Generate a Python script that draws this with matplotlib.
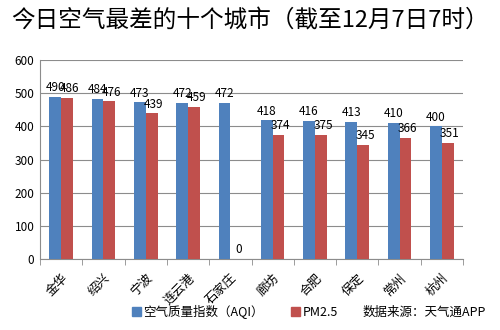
import numpy as np
import matplotlib
matplotlib.use("Agg")
import matplotlib.pyplot as plt
from matplotlib.patches import Patch

plt.rcParams['font.family'] = ['Noto Sans CJK SC', 'DejaVu Sans']

cities = ["金华", "绍兴", "宁波", "连云港", "石家庄", "廊坊", "合肥", "保定", "常州", "杭州"]
aqi = [490, 484, 473, 472, 472, 418, 416, 413, 410, 400]
pm25 = [486, 476, 439, 459, 0, 374, 375, 345, 366, 351]

blue = "#4F81BD"
red = "#C0504D"

fig = plt.figure(figsize=(5, 3.3), dpi=100)
ax = fig.add_axes([0.08, 0.215, 0.846, 0.603])

x = np.arange(len(cities))
w = 0.28
ax.bar(x - w / 2, aqi, w, color=blue, zorder=3)
ax.bar(x + w / 2, pm25, w, color=red, zorder=3)

for i in range(len(cities)):
    ax.text(x[i] - w / 2, aqi[i] + 8, str(aqi[i]), ha="center", va="bottom", fontsize=8.5)
    ax.text(x[i] + w / 2 + 0.05, pm25[i] + 8, str(pm25[i]), ha="center", va="bottom", fontsize=8.5)

ax.set_xlim(-0.5, len(cities) - 0.5)
ax.set_ylim(0, 600)
ax.set_yticks(range(0, 601, 100))
ax.yaxis.grid(True, color="#8c8c8c", linewidth=0.8, zorder=0)
ax.tick_params(axis="y", length=0, labelsize=8.5, pad=4)

ax.set_xticks(x)
ax.set_xticklabels(cities, rotation=45, ha="right", rotation_mode="anchor", fontsize=9)
ax.set_xticks(np.arange(-0.5, len(cities)), minor=True)
ax.tick_params(axis="x", which="major", length=0, pad=9)
ax.tick_params(axis="x", which="minor", length=4, color="#8c8c8c", direction="out")

for s in ["top", "right"]:
    ax.spines[s].set_visible(False)
ax.spines["left"].set_color("#8c8c8c")
ax.spines["bottom"].set_color("#8c8c8c")

fig.text(0.5, 0.935, "今日空气最差的十个城市（截至12月7日7时）", ha="center", va="center", fontsize=17)

handles = [Patch(color=blue, label="空气质量指数（AQI）"), Patch(color=red, label="PM2.5")]
fig.legend(handles=handles, loc="center", bbox_to_anchor=(0.47, 0.055), ncol=2, frameon=False,
           fontsize=9, handlelength=0.7, handleheight=0.7, handletextpad=0.2, columnspacing=2.2)
fig.text(0.725, 0.055, "数据来源：天气通APP", ha="left", va="center", fontsize=9)

fig.savefig("out.png", dpi=100)
